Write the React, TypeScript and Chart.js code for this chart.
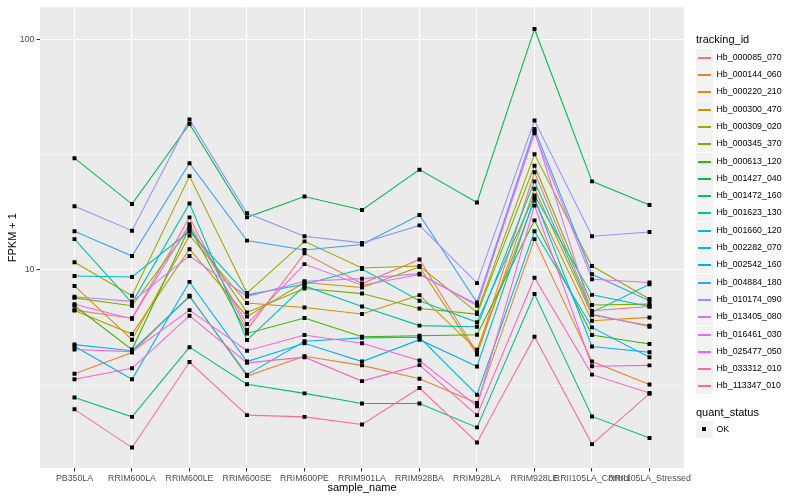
import React, { useEffect, useRef } from "react";
import { Chart, registerables } from "chart.js";

Chart.register(...registerables);

const categories = [
  "PB350LA", "RRIM600LA", "RRIM600LE", "RRIM600SE", "RRIM600PE", "RRIM901LA",
  "RRIM928BA", "RRIM928LA", "RRIM928LE", "RRII105LA_Control", "RRII105LA_Stressed",
];

const yMajorTicks = [10, 100];
const yMinorTicks = [3.162, 31.62];

const hb_000085_070 = [6.70, 6.18, 16.9, 5.50, 11.8, 8.73, 11.1, 4.39, 26.5, 6.66, 6.95];
const hb_000144_060 = [3.55, 4.39, 7.73, 3.47, 4.23, 3.86, 3.38, 2.65, 13.6, 4.01, 3.19];
const hb_000220_210 = [8.53, 4.99, 14.1, 7.19, 6.88, 6.44, 7.78, 4.51, 20.0, 6.03, 6.23];
const hb_000300_470 = [6.68, 5.28, 12.3, 6.29, 8.82, 8.39, 10.3, 4.30, 22.5, 6.38, 5.74];
const hb_000309_020 = [10.8, 7.73, 25.5, 7.94, 13.3, 10.2, 10.4, 6.55, 31.7, 10.4, 7.48];
const hb_000345_370 = [7.57, 7.00, 15.2, 6.55, 8.31, 7.90, 6.81, 6.44, 28.3, 7.05, 7.11];
const hb_000613_120 = [7.00, 4.52, 15.3, 5.31, 6.19, 5.14, 5.19, 5.24, 16.4, 5.23, 4.78];
const hb_001427_040 = [30.5, 19.3, 42.9, 16.9, 20.8, 18.2, 27.2, 19.6, 110.7, 24.2, 19.1];
const hb_001472_160 = [2.80, 2.31, 4.63, 3.20, 2.92, 2.64, 2.64, 2.08, 7.86, 2.32, 1.87];
const hb_001623_130 = [13.6, 7.21, 19.4, 4.97, 8.53, 6.95, 5.74, 5.68, 24.2, 6.55, 8.68];
const hb_001660_120 = [9.42, 9.33, 14.7, 7.80, 8.68, 10.1, 7.35, 5.93, 21.0, 7.80, 6.95];
const hb_002282_070 = [4.75, 4.47, 7.67, 3.52, 4.91, 5.08, 5.11, 2.88, 14.7, 5.64, 4.19];
const hb_002542_160 = [4.67, 3.36, 8.88, 4.01, 4.81, 4.01, 4.99, 3.82, 20.5, 4.66, 4.40];
const hb_004884_180 = [14.7, 11.5, 29.0, 13.4, 12.2, 12.9, 17.3, 7.23, 40.8, 9.58, 7.35];
const hb_010174_090 = [18.9, 14.8, 44.9, 17.6, 14.0, 13.1, 15.6, 8.77, 44.4, 14.0, 14.6];
const hb_013405_080 = [7.65, 7.31, 11.5, 7.67, 8.94, 9.17, 9.64, 7.00, 40.0, 6.44, 5.68];
const hb_016461_030 = [7.10, 6.15, 15.8, 5.83, 10.6, 8.59, 9.56, 7.11, 39.1, 9.12, 8.82];
const hb_025477_050 = [4.52, 4.43, 6.70, 4.47, 5.23, 4.81, 4.05, 2.57, 19.0, 3.83, 3.86];
const hb_033312_010 = [3.36, 3.75, 6.34, 3.96, 4.19, 3.30, 3.87, 2.35, 9.26, 3.52, 2.93];
const hb_113347_010 = [2.49, 1.70, 3.99, 2.35, 2.31, 2.14, 3.08, 1.79, 5.14, 1.76, 2.91];

const trackingIds = [
  "Hb_000085_070", "Hb_000144_060", "Hb_000220_210", "Hb_000300_470", "Hb_000309_020",
  "Hb_000345_370", "Hb_000613_120", "Hb_001427_040", "Hb_001472_160", "Hb_001623_130",
  "Hb_001660_120", "Hb_002282_070", "Hb_002542_160", "Hb_004884_180", "Hb_010174_090",
  "Hb_013405_080", "Hb_016461_030", "Hb_025477_050", "Hb_033312_010", "Hb_113347_010",
];

const seriesValues = [
  hb_000085_070, hb_000144_060, hb_000220_210, hb_000300_470, hb_000309_020,
  hb_000345_370, hb_000613_120, hb_001427_040, hb_001472_160, hb_001623_130,
  hb_001660_120, hb_002282_070, hb_002542_160, hb_004884_180, hb_010174_090,
  hb_013405_080, hb_016461_030, hb_025477_050, hb_033312_010, hb_113347_010,
];

const quantStatus = ["OK"];

const seriesColors = [
  "#F8766D", "#EA8331", "#D89000", "#C09B00", "#A3A500", "#7CAE00", "#39B600",
  "#00BB4E", "#00BF7D", "#00C1A3", "#00BFC4", "#00BAE0", "#00B0F6", "#35A2FF",
  "#9590FF", "#C77CFF", "#E76BF3", "#FA62DB", "#FF62BC", "#FF6C91",
];

const FONT = "'Liberation Sans', Arial, Helvetica, sans-serif";

const panelBg = {
  id: "panelBg",
  beforeDraw(chart: any) {
    const { ctx, chartArea: a } = chart;
    ctx.save();
    ctx.fillStyle = "#EBEBEB";
    ctx.fillRect(a.left, a.top, a.right - a.left, a.bottom - a.top);
    ctx.restore();
  },
};

export default function App() {
  const ref = useRef<HTMLCanvasElement | null>(null);

  useEffect(() => {
    if (!ref.current) return;
    const lineSets = seriesValues.map((vals, i) => ({
      type: "line" as const,
      label: trackingIds[i],
      data: vals.map((v, j) => ({ x: j, y: v })),
      borderColor: seriesColors[i],
      backgroundColor: seriesColors[i],
      borderWidth: 1.07,
      pointRadius: 0,
      fill: false,
      tension: 0,
      order: 100 - i,
    }));
    const pts: { x: number; y: number }[] = [];
    seriesValues.forEach((vals) => vals.forEach((v, j) => pts.push({ x: j, y: v })));
    const pointSet = {
      type: "scatter" as const,
      label: quantStatus[0],
      data: pts,
      pointStyle: "rect",
      pointRadius: 2.8,
      backgroundColor: "#000000",
      borderColor: "#000000",
      borderWidth: 0,
      showLine: false,
      order: 0,
    };
    const isMajor = (v: number) => yMajorTicks.some((t) => Math.abs(t - v) < 1e-6);
    const chart = new Chart(ref.current, {
      type: "line",
      data: { datasets: [...lineSets, pointSet] as any },
      plugins: [panelBg],
      options: {
        animation: false,
        responsive: false,
        devicePixelRatio: 1,
        layout: { padding: { top: 5, right: 116, left: 0, bottom: 0 } },
        plugins: { legend: { display: false }, tooltip: { enabled: false } },
        scales: {
          x: {
            type: "linear",
            min: -0.6,
            max: 10.6,
            afterBuildTicks: (s: any) => {
              s.ticks = categories.map((_, i) => ({ value: i }));
            },
            afterFit: (s: any) => {
              s.height = 32;
            },
            ticks: {
              autoSkip: false,
              maxRotation: 0,
              minRotation: 0,
              padding: 2,
              color: "#4D4D4D",
              font: { family: FONT, size: 8.8 },
              callback: (v: any) => categories[Math.round(Number(v))] ?? "",
            },
            grid: { color: "#FFFFFF", lineWidth: 1.07, tickColor: "#333333", tickLength: 3.5 },
            border: { display: false },
            title: {
              display: true,
              text: "sample_name",
              color: "#000000",
              font: { family: FONT, size: 11 },
              padding: { top: 0, bottom: 5 },
            },
          },
          y: {
            type: "logarithmic",
            min: 1.387,
            max: 137.4,
            afterBuildTicks: (s: any) => {
              s.ticks = [...yMinorTicks, ...yMajorTicks]
                .sort((a, b) => a - b)
                .map((v) => ({ value: v }));
            },
            afterFit: (s: any) => {
              s.width = 40;
            },
            ticks: {
              padding: 2,
              color: "#4D4D4D",
              font: { family: FONT, size: 8.8 },
              callback: (v: any) => (isMajor(Number(v)) ? String(Math.round(Number(v))) : ""),
            },
            grid: {
              color: "#FFFFFF",
              lineWidth: (c: any) => (c.tick && isMajor(c.tick.value) ? 1.07 : 0.53),
              tickColor: (c: any) => (c.tick && isMajor(c.tick.value) ? "#333333" : "rgba(0,0,0,0)"),
              tickLength: 3.5,
            },
            border: { display: false },
            title: {
              display: true,
              text: "FPKM + 1",
              color: "#000000",
              font: { family: FONT, size: 11 },
              padding: { top: 6.4, bottom: 0 },
            },
          },
        },
      } as any,
    });
    return () => chart.destroy();
  }, []);

  const keyTop0 = 48.7;
  const keyH = 17.3;
  const legendLeft = 696;

  return (
    <div style={{ position: "absolute", left: 0, top: 0, width: 800, height: 500, background: "#FFFFFF", fontFamily: FONT }}>
      <canvas ref={ref} width={800} height={500} style={{ width: 800, height: 500, display: "block" }} />
      <div style={{ position: "absolute", left: legendLeft, top: 32, fontSize: 11, lineHeight: "14px", color: "#000" }}>
        tracking_id
      </div>
      {trackingIds.map((id, i) => (
        <div key={id} style={{ position: "absolute", left: legendLeft, top: Math.round(keyTop0 + i * keyH), height: 17, width: 100 }}>
          <div style={{ position: "absolute", left: 0, top: 0, width: 17, height: 17, background: "#F2F2F2" }}>
            <div style={{ position: "absolute", left: 2, top: 8, width: 13, height: 2, background: seriesColors[i] }} />
          </div>
          <div style={{ position: "absolute", left: 20.5, top: 0, height: 17, lineHeight: "17px", fontSize: 8.8, color: "#000", whiteSpace: "nowrap" }}>
            {id}
          </div>
        </div>
      ))}
      <div style={{ position: "absolute", left: legendLeft, top: 405, fontSize: 11, lineHeight: "14px", color: "#000" }}>
        quant_status
      </div>
      {quantStatus.map((s, i) => (
        <div key={s} style={{ position: "absolute", left: legendLeft, top: 421 + i * 17, height: 17, width: 100 }}>
          <div style={{ position: "absolute", left: 0, top: 0, width: 17, height: 17, background: "#F2F2F2" }}>
            <div style={{ position: "absolute", left: 6, top: 6, width: 4, height: 4, background: "#000" }} />
          </div>
          <div style={{ position: "absolute", left: 20.5, top: 0, height: 17, lineHeight: "17px", fontSize: 8.8, color: "#000" }}>
            {s}
          </div>
        </div>
      ))}
    </div>
  );
}
